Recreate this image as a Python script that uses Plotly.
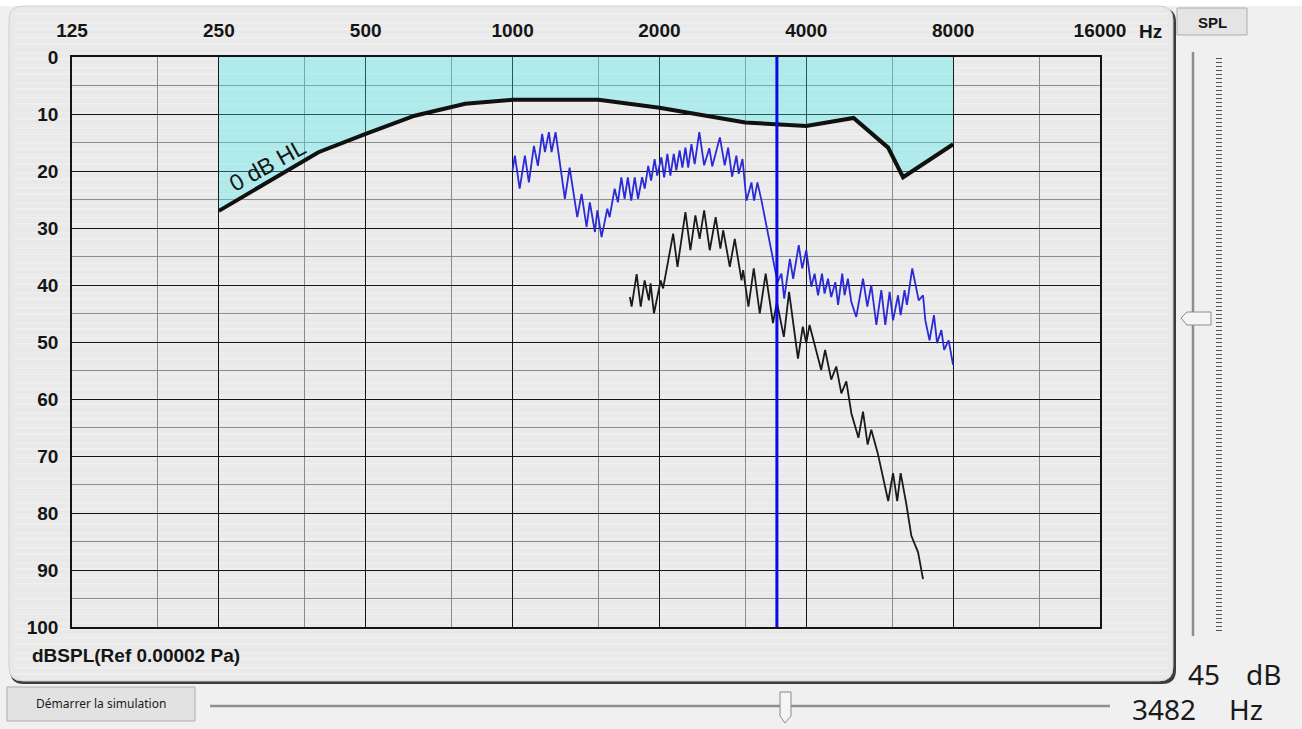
import plotly.graph_objects as go

# frequency axis (Hz)
oct_freqs = [125, 250, 500, 1000, 2000, 4000, 8000, 16000]
oct_labels = ["125", "250", "500", "1000", "2000", "4000", "8000", "16000"]
mid_freqs = [187.5, 375, 750, 1500, 3000, 6000, 12000]
db_ticks = [0, 10, 20, 30, 40, 50, 60, 70, 80, 90, 100]

# 0 dB HL threshold curve
hl_freq = [250, 400, 500, 630, 800, 1000, 1500, 2000, 3000, 4000, 5000, 5885, 6316, 8000]
hl_db = [27, 16.7, 13.5, 10.3, 8.2, 7.5, 7.5, 8.9, 11.5, 12.1, 10.7, 15.9, 21.1, 15.3]

# blue spectrum
blue_freq = [1000, 1011, 1034, 1060, 1080, 1106, 1127, 1150, 1165, 1187, 1202, 1225,
             1280, 1309, 1357, 1385, 1418, 1440, 1475, 1492, 1522, 1564, 1581, 1619,
             1644, 1671, 1697, 1723, 1751, 1780, 1808, 1843, 1866, 1897, 1923, 1955,
             1979, 2019, 2045, 2076, 2106, 2140, 2166, 2200, 2229, 2261, 2291, 2326,
             2362, 2414, 2470, 2531, 2566, 2660, 2722, 2766, 2818, 2876, 2908, 2960,
             3016, 3088, 3126, 3176, 3238, 3492, 3558, 3604, 3702, 3760, 3860, 3924,
             4000, 4096, 4160, 4228, 4308, 4360, 4432, 4500, 4588, 4648, 4740, 4792,
             4868, 4948, 5064, 5228, 5336, 5436, 5568, 5700, 5808, 5928, 6024, 6168,
             6244, 6360, 6432, 6596, 6800, 6940, 7016, 7156, 7308, 7416, 7568, 7668,
             7832, 7996]
blue_db = [19.9, 17.3, 23.1, 17.3, 22.0, 15.6, 19.1, 13.5, 16.7, 13.2, 16.7, 13.2,
           24.9, 19.4, 28.1, 24.0, 29.8, 25.5, 30.7, 26.9, 31.6, 26.6, 28.1, 23.1,
           25.5, 21.1, 24.9, 21.1, 25.2, 21.1, 24.9, 21.1, 23.1, 19.1, 21.7, 17.9,
           20.8, 17.6, 21.1, 17.0, 20.8, 17.0, 19.9, 16.4, 19.4, 15.9, 19.4, 15.3,
           18.8, 13.2, 19.0, 16.0, 19.2, 14.1, 19.0, 15.9, 21.0, 17.3, 20.5, 17.9,
           25.2, 22.0, 25.2, 22.0, 25.2, 39.5, 38.0, 42.4, 35.4, 38.9, 33.0, 37.1,
           33.9, 40.3, 38.0, 41.8, 38.0, 41.5, 38.9, 42.1, 39.5, 43.5, 38.0, 41.8,
           38.9, 43.0, 45.6, 38.9, 43.8, 40.0, 47.0, 40.9, 47.0, 41.2, 46.2, 41.8,
           45.3, 40.9, 43.5, 37.1, 42.7, 41.8, 46.2, 49.7, 45.3, 50.2, 47.9, 51.4,
           49.7, 54.0]

# black spectrum
black_freq = [1740, 1754, 1796, 1831, 1865, 1903, 1918, 1949, 2012, 2035, 2134, 2178,
              2261, 2315, 2370, 2418, 2470, 2536, 2608, 2667, 2702, 2788, 2854, 2946,
              2969, 3044, 3122, 3211, 3302, 3418, 3482, 3598, 3688, 3846, 3935, 4000,
              4062, 4292, 4372, 4500, 4608, 4720, 4832, 4948, 5116, 5228, 5344, 5436,
              5604, 5744, 5888, 6024, 6144, 6244, 6416, 6568, 6780, 6940]
black_db = [42.1, 43.8, 38.1, 43.8, 39.2, 42.7, 39.7, 45.0, 39.2, 40.6, 31.0, 36.8,
            27.2, 33.9, 27.8, 31.9, 26.9, 33.9, 28.1, 33.6, 30.4, 36.8, 31.9, 39.2,
            37.4, 43.8, 37.1, 45.0, 38.0, 46.7, 43.0, 49.1, 41.2, 52.9, 47.3, 50.2,
            47.0, 54.9, 51.4, 56.6, 54.3, 59.0, 56.9, 62.5, 66.8, 62.2, 68.0, 65.4,
            69.5, 73.5, 77.9, 73.0, 77.9, 73.0, 78.5, 84.0, 86.9, 91.6]

cursor_freq = 3482
level_db = 45

W, H = 1302, 729
L, R, T, B = 72, 1100, 57, 627


def px_x(px):
    return (px - L) / (R - L)


def px_y(py):
    return (B - py) / (B - T)


def rrect(x0, y0, x1, y1, r):
    X = lambda v: f"{px_x(v):.5f}"
    Y = lambda v: f"{px_y(v):.5f}"
    return (f"M {X(x0 + r)},{Y(y0)} L {X(x1 - r)},{Y(y0)} Q {X(x1)},{Y(y0)} {X(x1)},{Y(y0 + r)} "
            f"L {X(x1)},{Y(y1 - r)} Q {X(x1)},{Y(y1)} {X(x1 - r)},{Y(y1)} "
            f"L {X(x0 + r)},{Y(y1)} Q {X(x0)},{Y(y1)} {X(x0)},{Y(y1 - r)} "
            f"L {X(x0)},{Y(y0 + r)} Q {X(x0)},{Y(y0)} {X(x0 + r)},{Y(y0)} Z")


def poly(pts):
    return "M " + " L ".join(f"{px_x(x):.5f},{px_y(y):.5f}" for x, y in pts) + " Z"


fig = go.Figure()

fig.add_trace(go.Scatter(x=hl_freq, y=hl_db, mode="lines", fill="tozeroy",
                         fillcolor="rgba(60,235,235,0.33)",
                         line=dict(color="#111111", width=4)))
fig.add_trace(go.Scatter(x=blue_freq, y=blue_db, mode="lines",
                         line=dict(color="#2a2ad6", width=1.8)))
fig.add_trace(go.Scatter(x=black_freq, y=black_db, mode="lines",
                         line=dict(color="#1a1a1a", width=1.8)))
fig.add_trace(go.Scatter(x=[cursor_freq, cursor_freq], y=[0, 100], mode="lines",
                         line=dict(color="#0a0ae6", width=3)))

shapes = [
    # window strip at the top
    dict(type="rect", xref="paper", yref="paper", x0=px_x(0), x1=px_x(W), y0=px_y(0), y1=px_y(6),
         fillcolor="#ffffff", line_width=0, layer="below"),
    # panel shadow and face
    dict(type="path", xref="paper", yref="paper", path=rrect(10, 8, 1176, 684, 14),
         fillcolor="#3c3c3c", line_width=0, layer="below"),
    dict(type="path", xref="paper", yref="paper", path=rrect(9, 6, 1173, 681, 14),
         fillcolor="#e9e9e9", line=dict(color="#d0d0d0", width=1), layer="below"),
]
# faint brushed streaks on the panel
streak_alpha = [0.55, 0.25, 0.0, 0.4, 0.15, 0.6, 0.0, 0.3, 0.5, 0.1]
for i, yy in enumerate(range(14, 676, 3)):
    a = streak_alpha[i % len(streak_alpha)]
    if a > 0:
        shapes.append(dict(type="line", xref="paper", yref="paper", x0=px_x(14), x1=px_x(1168),
                           y0=px_y(yy), y1=px_y(yy), layer="below",
                           line=dict(color=f"rgba(255,255,255,{a})", width=1.2)))
shapes += [
    # SPL button
    dict(type="rect", xref="paper", yref="paper", x0=px_x(1177), x1=px_x(1247), y0=px_y(35), y1=px_y(8),
         fillcolor="#e4e4e4", line=dict(color="#adadad", width=1), layer="below"),
    # vertical slider
    dict(type="line", xref="paper", yref="paper", x0=px_x(1193), x1=px_x(1193), y0=px_y(52), y1=px_y(636),
         line=dict(color="#8e8e8e", width=2.5), layer="below"),
    dict(type="line", xref="paper", yref="paper", x0=px_x(1219), x1=px_x(1219), y0=px_y(58), y1=px_y(632),
         line=dict(color="#555555", width=6, dash="1px,3px"), layer="below"),
    dict(type="path", xref="paper", yref="paper",
         path=poly([(1181, 318), (1187, 312), (1211, 312), (1211, 325), (1187, 325)]),
         fillcolor="#f5f5f5", line=dict(color="#8a8a8a", width=1), layer="below"),
    # bottom button and horizontal slider
    dict(type="rect", xref="paper", yref="paper", x0=px_x(7), x1=px_x(195), y0=px_y(721), y1=px_y(687),
         fillcolor="#e2e2e2", line=dict(color="#adadad", width=1), layer="below"),
    dict(type="line", xref="paper", yref="paper", x0=px_x(210), x1=px_x(1110), y0=px_y(706), y1=px_y(706),
         line=dict(color="#8e8e8e", width=2.5), layer="below"),
    dict(type="path", xref="paper", yref="paper",
         path=poly([(780, 692), (791, 692), (791, 716), (785, 723), (780, 716)]),
         fillcolor="#f5f5f5", line=dict(color="#8a8a8a", width=1), layer="below"),
]

bold = dict(family="Liberation Sans, Arial, sans-serif", size=19, color="#151515", weight="bold")
ui = dict(family="Noto Sans, Open Sans, sans-serif", color="#1a1a1a")


def label(text, px, py, font, xanchor="center"):
    return dict(text=text, x=px_x(px), y=px_y(py), xref="paper", yref="paper",
                xanchor=xanchor, yanchor="middle", showarrow=False, font=font)


annotations = [
    dict(text="0 dB HL", x=2.498, y=19.0, xref="x", yref="y", showarrow=False, textangle=-29,
         xanchor="center", yanchor="middle",
         font=dict(family="Liberation Sans, Arial, sans-serif", size=23, color="#151515")),
    label("Hz", 1150, 31.5, bold),
    label("dBSPL(Ref 0.00002 Pa)", 30, 655, bold, "left"),
    label("SPL", 1212, 22, dict(family="Liberation Sans, Arial, sans-serif", size=15,
                                 color="#151515", weight="bold")),
    label(str(level_db), 1222, 674, dict(ui, size=28), "right"),
    label("dB", 1244, 674, dict(ui, size=28), "left"),
    label(str(cursor_freq), 1198, 709, dict(ui, size=28), "right"),
    label("Hz", 1227, 709, dict(ui, size=28), "left"),
    label("Démarrer la simulation", 101, 703, dict(ui, size=12)),
]

fig.update_layout(
    width=W, height=H,
    margin=dict(l=L, r=W - R, t=T, b=H - B, pad=0),
    paper_bgcolor="#f0f0f0",
    plot_bgcolor="rgba(0,0,0,0)",
    showlegend=False,
    shapes=shapes,
    annotations=annotations,
)

fig.update_xaxes(
    type="log", range=[2.09691, 4.20412], side="top",
    tickvals=oct_freqs, ticktext=oct_labels, tickfont=bold, ticks="", ticklabelstandoff=11,
    showgrid=True, gridcolor="#141414", gridwidth=1.3,
    minor=dict(tickvals=mid_freqs, showgrid=True, gridcolor="#8c8c8c", gridwidth=1, ticks=""),
    showline=True, mirror=True, linecolor="#141414", linewidth=1.5, zeroline=False,
)
fig.update_yaxes(
    range=[100, 0], tickvals=db_ticks, tickfont=bold, ticks="", ticklabelstandoff=8,
    showgrid=True, gridcolor="#141414", gridwidth=1.3,
    minor=dict(dtick=5, showgrid=True, gridcolor="#8c8c8c", gridwidth=1, ticks=""),
    showline=True, mirror=True, linecolor="#141414", linewidth=1.5, zeroline=False,
)

fig.write_html("out.html", config={"displayModeBar": False},
               post_script="document.body.style.margin='0';document.body.style.overflow='hidden';")
